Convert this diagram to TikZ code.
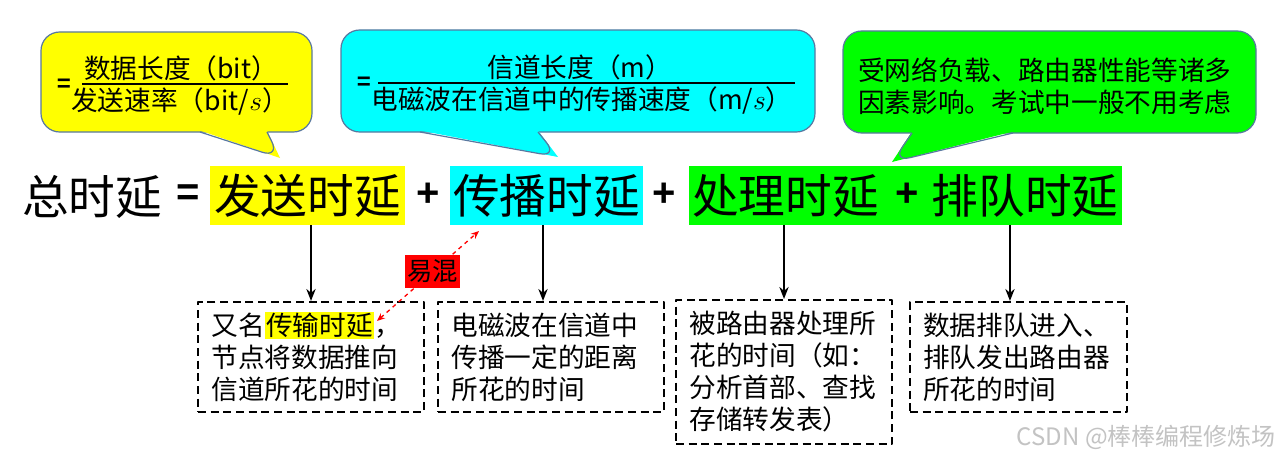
\documentclass[tikz,border=0pt]{standalone}
\usepackage{fontspec}
\setmainfont{Noto Sans CJK SC}
\newfontfamily\symfont{Liberation Sans}
\usetikzlibrary{arrows.meta}
\definecolor{calloutline}{RGB}{88,120,160}
\definecolor{marklight}{RGB}{195,195,195}
\definecolor{hlyellow}{RGB}{255,255,0}
\definecolor{hlaqua}{RGB}{0,255,255}
\definecolor{hlgreen}{RGB}{0,255,0}
\definecolor{hlred}{RGB}{255,0,0}
\setlength{\fboxsep}{1pt}
\tikzset{
	callout/.style={draw=calloutline,line width=0.9pt,rounded corners=14pt},
	hilite/.style={inner sep=0pt,minimum height=44.25pt},
	bigtxt/.style={font=\fontsize{35}{40}\selectfont,inner sep=0pt},
	bigop/.style={font=\symfont\bfseries\fontsize{30}{36}\selectfont,inner sep=0pt},
	smallop/.style={font=\symfont\bfseries\fontsize{18}{20}\selectfont,inner sep=0pt},
	fractxt/.style={font=\fontsize{20}{24}\selectfont,inner sep=0pt},
	notebox/.style={draw,line width=1.6pt,dash pattern=on 6pt off 3.5pt,font=\fontsize{20}{24}\selectfont,align=left,inner xsep=10pt,inner ysep=0pt},
	down/.style={-{Stealth[length=9pt,width=7pt]},line width=1.1pt},
}
\begin{document}
\begin{tikzpicture}[x=0.75pt,y=-0.75pt,line join=round]
	\fill[white] (0,0) rectangle (1281,460);
	\useasboundingbox (0,0) rectangle (1281,460);
	% callouts
	\filldraw[callout,fill=hlyellow] (41,32) rectangle (312,132);
	\fill[hlyellow] (200,130.5) -- (280,158) -- (267,130.5) -- cycle;
	\draw[callout] (200,132) -- (280,158) -- (267,132);
	\filldraw[callout,fill=hlaqua] (341,30) rectangle (815,132);
	\fill[hlaqua] (420,130.5) -- (558,157) -- (538,130.5) -- cycle;
	\draw[callout] (420,132) -- (558,157) -- (538,132);
	\filldraw[callout,fill=hlgreen] (843,31) rectangle (1256,133);
	\fill[hlgreen] (912,131.5) -- (892,162) -- (1013,131.5) -- cycle;
	\draw[callout] (912,133) -- (892,162) -- (1013,133);
	% fractions
	\node[smallop] (eqA) at (64,85) {=};
	\node[fractxt] (numA) at (181,68) {数据长度（bit）};
	\node[fractxt] (denA) at (180,101) {发送速率（bit/$s$）};
	\draw[line width=1pt] (82,84) -- (288,84);
	\node[smallop] (eqB) at (364,83) {=};
	\node[fractxt] (numB) at (580,67) {信道长度（m）};
	\node[fractxt] (denB) at (582,100) {电磁波在信道中的传播速度（m/$s$）};
	\draw[line width=1pt] (378,83) -- (795,83);
	\node[fractxt,anchor=west,align=left] (yingxiang) at (858,86) {受网络负载、路由器性能等诸多\\因素影响。考试中一般不用考虑};
	% main line
	\node[bigtxt] (zong) at (92,197) {总时延};
	\node[bigop] (deng) at (188,195) {=};
	\node[hilite,bigtxt,fill=hlyellow,minimum width=146.25pt] (fasong) at (307.5,195.5) {发送时延};
	\node[bigop] (jia1) at (428,195) {+};
	\node[hilite,bigtxt,fill=hlaqua,minimum width=144.75pt] (chuanbo) at (546.5,195.5) {传播时延};
	\node[bigop] (jia2) at (664,195) {+};
	\node[hilite,fill=hlgreen,minimum width=324.75pt] (lvse) at (905.5,195.5) {};
	\node[bigtxt] (chuli) at (785.5,196) {处理时延};
	\node[bigop] (jia3) at (907,195) {+};
	\node[bigtxt] (paidui) at (1025,196) {排队时延};
	% notes
	\node[notebox,text width=149.5pt,minimum width=169.5pt,minimum height=82.5pt] (youming) at (311,357) {又名\colorbox{hlyellow}{传输时延}，\\节点将数据推向\\信道所花的时间};
	\node[notebox,text width=149.5pt,minimum width=169.5pt,minimum height=82.5pt] (dianci) at (551,357) {电磁波在信道中\\传播一定的距离\\所花的时间};
	\node[notebox,text width=142pt,minimum width=162pt,minimum height=108pt] (luyou) at (784,372) {被路由器处理所\\花的时间（如：\\分析首部、查找\\存储转发表）};
	\node[notebox,text width=143pt,minimum width=163pt,minimum height=82.5pt] (paidpai) at (1018.5,357) {数据排队进入、\\排队发出路由器\\所花的时间};
	\draw[down] (fasong.south -| youming.north) -- (youming.north);
	\draw[down] ([xshift=-6pt]chuanbo.south -| dianci.north) -- ([xshift=-6pt]dianci.north);
	\draw[down] (lvse.south -| luyou.north) -- (luyou.north);
	\draw[down] ([xshift=-6.4pt]lvse.south -| paidpai.north) -- ([xshift=-6.4pt]paidpai.north);
	% confusing pair
	\coordinate (hunA) at (377,321);
	\coordinate (hunB) at (479,231);
	\draw[hlred,dashed,line width=1pt,{Stealth[length=6pt,width=5pt]}-{Stealth[length=6pt,width=5pt]}] (hunA) -- (hunB);
	\node[fill=hlred,font=\fontsize{19}{22}\selectfont,inner sep=1.5pt,minimum height=24.75pt] (yihun) at (432.5,271.5) {易混};
	\node[font=\fontsize{18}{20}\selectfont,text=marklight,anchor=east,inner sep=0pt] (csdn) at (1276,437) {CSDN @棒棒编程修炼场};
\end{tikzpicture}
\end{document}
